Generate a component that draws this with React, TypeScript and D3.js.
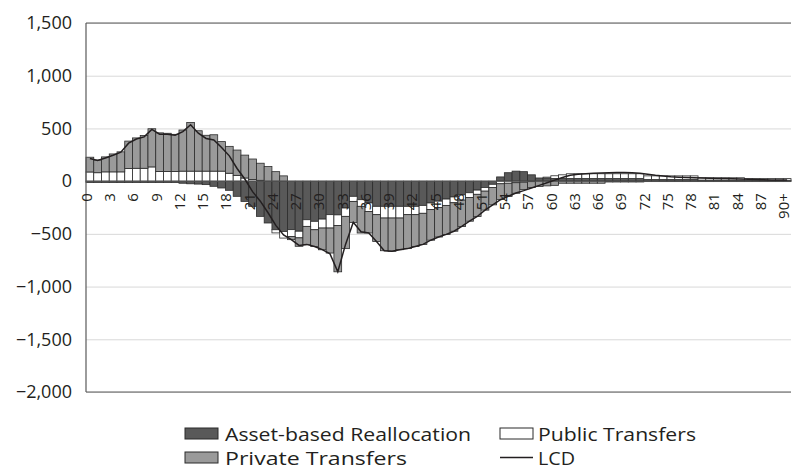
import React, { useEffect, useRef } from 'react';
import {
  axisLeft,
  format,
  line,
  scaleBand,
  scaleLinear,
  select,
  stack,
  stackOffsetDiverging,
} from 'd3';

// ages 0..89 plus the open-ended 90+ group
const ages: string[] = Array.from({ length: 91 }, (_, i) => (i === 90 ? '90+' : String(i)));

const xTickLabels = [
  '0', '3', '6', '9', '12', '15', '18', '21', '24', '27', '30', '33', '36', '39', '42',
  '45', '48', '51', '54', '57', '60', '63', '66', '69', '72', '75', '78', '81', '84', '87', '90+',
];

const yTicks = [1500, 1000, 500, 0, -500, -1000, -1500, -2000];

const assetBased = [
  -12, -12, -12, -12, -12, -12, -12, -12, -12, -12, -12, -12, -20, -25, -28, -33, -49, -65, -87, -144,
  -192, -239, -334, -397, -461, -477, -460, -475, -366, -381, -360, -318, -320, -255, -144, -176, -207, -239, -239, -239,
  -239, -239, -239, -230, -207, -190, -170, -150, -130, -110, -85, -60, -30, 40, 80, 95, 90, 60, 30, 28,
  26, 25, 25, 25, 25, 25, 25, 25, 25, 25, 25, 25, 15, 15, 15, 15, 15, 15, 15, 10,
  10, 10, 10, 10, 10, 8, 8, 8, 8, 8, 8,
];

const publicTransfers = [
  87, 80, 88, 88, 88, 120, 122, 122, 135, 92, 92, 92, 95, 95, 95, 95, 95, 95, 75, 55,
  30, 15, 8, 0, -30, -63, -65, -63, -63, -80, -85, -127, -100, -79, -48, -63, -80, -79, -111, -111,
  -111, -79, -79, -75, -63, -60, -60, -55, -50, -45, -40, -35, -30, -25, -20, -15, -10, -5, 0, 10,
  25, 35, 45, 45, 45, 45, 45, 45, 45, 45, 45, 45, 35, 35, 35, 35, 35, 35, 35, 22,
  22, 22, 22, 22, 22, 16, 16, 16, 16, 16, 16,
];

const privateTransfers = [
  140, 120, 142, 170, 190, 260, 288, 310, 362, 366, 362, 352, 390, 462, 383, 340, 345, 280, 255, 240,
  217, 195, 162, 138, 90, 50, -30, -80, -174, -158, -206, -237, -440, -306, -200, -253, -205, -254, -310, -315,
  -300, -322, -302, -295, -290, -280, -275, -270, -250, -225, -210, -180, -165, -150, -125, -100, -70, -55, -50, -45,
  -40, -20, -20, -20, -20, -20, -20, -8, -8, -8, -8, -8, -3, -3, -3, -3, -3, -3, -3, -3,
  -3, -3, -3, -3, -3, -3, -3, -3, -3, -3, -3,
];

const lcd = [
  215, 195, 220, 245, 275, 360, 400, 420, 490, 445, 445, 435, 470, 535, 455, 405, 390, 320, 240, 120,
  20, -100, -190, -300, -420, -510, -555, -610, -600, -620, -650, -690, -860, -600, -390, -480, -492, -572, -660, -665,
  -650, -640, -620, -600, -560, -530, -505, -475, -430, -380, -335, -275, -225, -176, -144, -112, -90, -65, -40, -15,
  10, 35, 55, 65, 70, 75, 78, 80, 82, 82, 80, 75, 65, 55, 48, 42, 38, 35, 32, 30,
  28, 26, 24, 22, 20, 18, 16, 14, 12, 10, 12,
];

const seriesKeys = ['asset', 'pub', 'priv'];
const seriesColors: Record<string, string> = {
  asset: '#595959',
  pub: '#ffffff',
  priv: '#9a9a9a',
};

const FONT = '"Open Sans", sans-serif';
const INK = '#231f20';

function AxisLeft({ scale, width }: { scale: any; width: number }) {
  const ref = useRef<SVGGElement>(null);

  useEffect(() => {
    if (ref.current) {
      select(ref.current)
        .call(axisLeft(scale).tickValues(yTicks).tickFormat(format(',')).tickSize(0).tickPadding(14))
        .call((g) => {
          g.select('.domain').remove();
          g.selectAll('.tick text')
            .attr('font-size', 18)
            .attr('font-family', FONT)
            .attr('fill', INK);
          // light horizontal gridlines
          g.selectAll('.tick line')
            .attr('x2', width)
            .attr('stroke', '#d9d9d9')
            .attr('stroke-width', 1);
        });
    }
  }, [scale, width]);

  return <g ref={ref} />;
}

function Legend() {
  const row1 = 433.5;
  const row2 = 457.5;
  return (
    <g fontFamily={FONT} fontSize={18} fill={INK}>
      <rect x={185} y={row1 - 5.5} width={33} height={11} fill={seriesColors.asset} stroke="#2b2b2b" />
      <text x={225} y={row1} dominantBaseline="central" textLength={246} lengthAdjust="spacingAndGlyphs">
        Asset-based Reallocation
      </text>
      <rect x={500} y={row1 - 5.5} width={33} height={11} fill={seriesColors.pub} stroke="#2b2b2b" />
      <text x={538} y={row1} dominantBaseline="central" textLength={158} lengthAdjust="spacingAndGlyphs">
        Public Transfers
      </text>
      <rect x={185} y={row2 - 5.5} width={33} height={11} fill={seriesColors.priv} stroke="#2b2b2b" />
      <text x={225} y={row2} dominantBaseline="central" textLength={182} lengthAdjust="spacingAndGlyphs">
        Private Transfers
      </text>
      <line x1={500} x2={533} y1={row2} y2={row2} stroke={INK} strokeWidth={1.5} />
      <text x={538} y={row2} dominantBaseline="central" textLength={37} lengthAdjust="spacingAndGlyphs">
        LCD
      </text>
    </g>
  );
}

export default function App() {
  const margin = { top: 23, right: 2, bottom: 78, left: 86 };
  const W = 793;
  const H = 470;
  const width = W - margin.left - margin.right;
  const height = H - margin.top - margin.bottom;

  const scaleX = scaleBand().domain(ages).range([0, width]).padding(0);
  const scaleY = scaleLinear().domain([-2000, 1500]).range([height, 0]);

  const rows = ages.map((age, i) => ({
    age,
    asset: assetBased[i],
    pub: publicTransfers[i],
    priv: privateTransfers[i],
  }));
  const stacked = stack<any>().keys(seriesKeys).offset(stackOffsetDiverging)(rows);

  const bw = scaleX.bandwidth();
  const lcdPath = line<number>()
    .x((_, i) => (scaleX(ages[i]) ?? 0) + bw / 2)
    .y((d) => scaleY(d))(lcd);

  const zeroY = scaleY(0);

  return (
    <svg
      width={W}
      height={H}
      style={{ position: 'absolute', left: 0, top: 0, background: '#fff' }}
    >
      <g transform={`translate(${margin.left}, ${margin.top})`}>
        <AxisLeft scale={scaleY} width={width} />
        {stacked.map((s) => (
          <g key={s.key} fill={seriesColors[s.key]} stroke="#2b2b2b" strokeWidth={0.8}>
            {s.map((d, i) => {
              const y0 = scaleY(d[0]);
              const y1 = scaleY(d[1]);
              if (Math.abs(y1 - y0) < 0.01) return null;
              return (
                <rect
                  key={`${s.key}-${i}`}
                  x={scaleX(ages[i])}
                  y={Math.min(y0, y1)}
                  width={bw}
                  height={Math.abs(y1 - y0)}
                />
              );
            })}
          </g>
        ))}
        {/* plot frame and zero line */}
        <line x1={0} x2={width} y1={0} y2={0} stroke="#595959" strokeWidth={1} />
        <line x1={0} x2={width} y1={height} y2={height} stroke="#595959" strokeWidth={1} />
        <line x1={0} x2={0} y1={0} y2={height} stroke="#595959" strokeWidth={1.2} />
        <line x1={0} x2={width} y1={zeroY} y2={zeroY} stroke="#595959" strokeWidth={1} />
        {xTickLabels.map((t) => (
          <text
            key={`xl-${t}`}
            transform={`translate(${(scaleX(t) ?? 0) + bw / 2 - 4}, ${zeroY + 12}) rotate(-90)`}
            textAnchor="end"
            dominantBaseline="central"
            fontSize={15}
            fontFamily={FONT}
            fill={INK}
          >
            {t}
          </text>
        ))}
        <path d={lcdPath ?? ''} fill="none" stroke={INK} strokeWidth={1.5} />
      </g>
      <Legend />
    </svg>
  );
}
